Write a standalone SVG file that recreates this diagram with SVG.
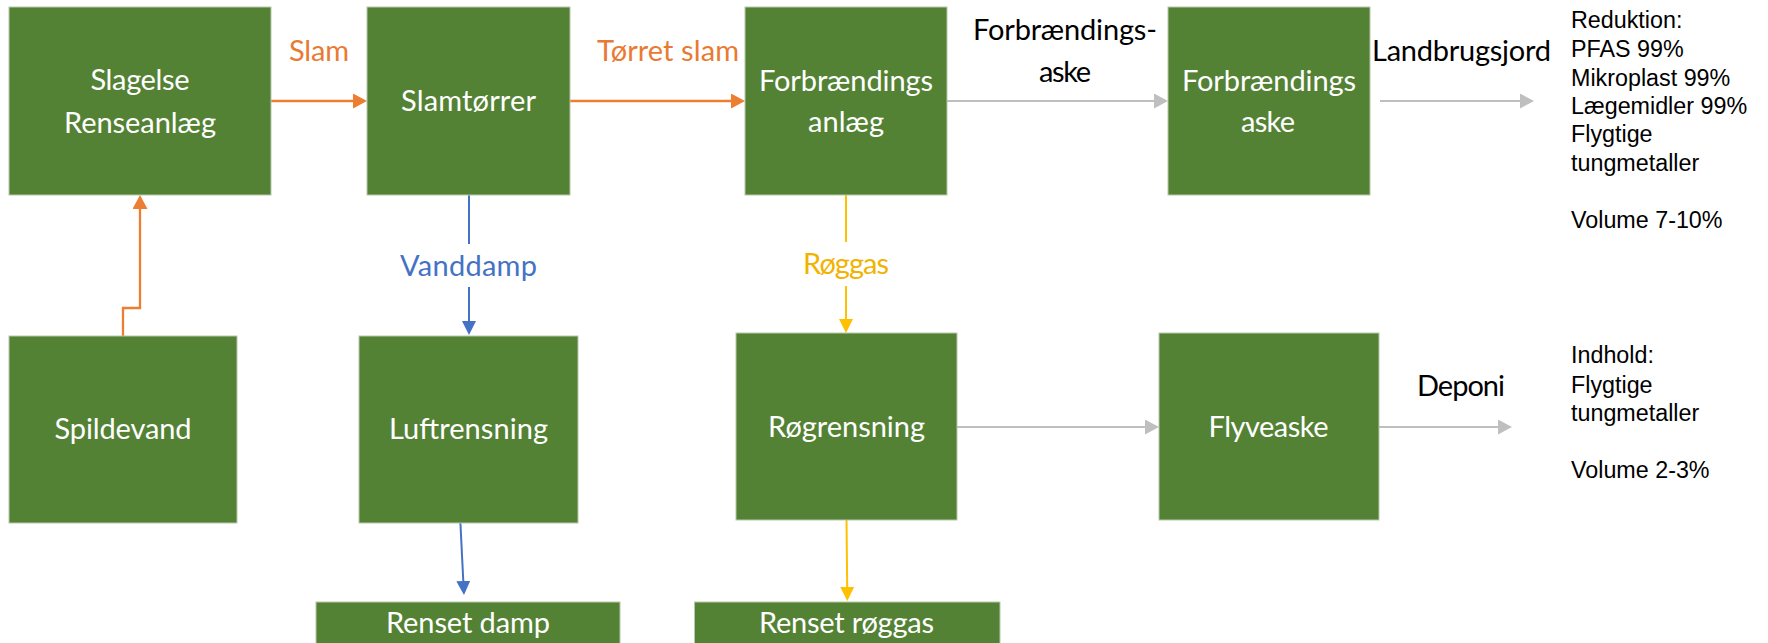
<svg xmlns="http://www.w3.org/2000/svg" width="1768" height="643" viewBox="0 0 1768 643">
<style>
.box{fill:#548235;stroke:#b7c7ab;stroke-width:1}
.bt{font-family:Lato,"Open Sans","Noto Sans",sans-serif;font-size:29px;fill:#ffffff;text-anchor:middle}
.lb{font-family:Lato,"Open Sans","Noto Sans",sans-serif;font-size:29px;text-anchor:middle}
.ar{font-family:"Liberation Sans",Arial,sans-serif;font-size:23.3px;fill:#000000}
.or{stroke:#ED7D31;stroke-width:2.3;fill:none}
.bl{stroke:#4472C4;stroke-width:2;fill:none}
.ye{stroke:#FFC000;stroke-width:2;fill:none}
.gr{stroke:#BFBFBF;stroke-width:2.2;fill:none}
</style>
<defs>
<marker id="aOr" markerUnits="userSpaceOnUse" markerWidth="14" markerHeight="15" refX="0" refY="7.5" orient="auto"><path d="M0,0 L14,7.5 L0,15 z" fill="#ED7D31"/></marker>
<marker id="aBl" markerUnits="userSpaceOnUse" markerWidth="14" markerHeight="14" refX="0" refY="7" orient="auto"><path d="M0,0 L14,7 L0,14 z" fill="#4472C4"/></marker>
<marker id="aYe" markerUnits="userSpaceOnUse" markerWidth="14" markerHeight="14" refX="0" refY="7" orient="auto"><path d="M0,0 L14,7 L0,14 z" fill="#FFC000"/></marker>
<marker id="aGr" markerUnits="userSpaceOnUse" markerWidth="14" markerHeight="15" refX="0" refY="7.5" orient="auto"><path d="M0,0 L14,7.5 L0,15 z" fill="#BFBFBF"/></marker>
</defs>
<rect width="1768" height="643" fill="#ffffff"/>

<g id="connectors">
<line class="or" x1="271" y1="101" x2="353" y2="101" marker-end="url(#aOr)"/>
<line class="or" x1="570" y1="101" x2="731" y2="101" marker-end="url(#aOr)"/>
<path class="or" d="M123,336 V308 H140 V209" marker-end="url(#aOr)"/>
<line class="gr" x1="947" y1="101" x2="1154" y2="101" marker-end="url(#aGr)"/>
<line class="gr" x1="1380" y1="101" x2="1520" y2="101" marker-end="url(#aGr)"/>
<line class="bl" x1="469" y1="195" x2="469" y2="244"/>
<line class="bl" x1="469" y1="287" x2="469" y2="321" marker-end="url(#aBl)"/>
<line class="bl" x1="460.4" y1="523" x2="463.3" y2="581" marker-end="url(#aBl)"/>
<line class="ye" x1="846" y1="195" x2="846" y2="242"/>
<line class="ye" x1="846" y1="286" x2="846" y2="319" marker-end="url(#aYe)"/>
<line class="ye" x1="846.5" y1="520" x2="847.2" y2="587" marker-end="url(#aYe)"/>
<line class="gr" x1="957" y1="427" x2="1145" y2="427" marker-end="url(#aGr)"/>
<line class="gr" x1="1379" y1="427" x2="1498" y2="427" marker-end="url(#aGr)"/>
</g>

<g id="labels">
<text class="lb" x="319" y="61" fill="#E97A33" textLength="60">Slam</text>
<text class="lb" x="668" y="61" fill="#E97A33" textLength="142">Tørret slam</text>
<text class="lb" x="1065" y="40" fill="#000000" textLength="184">Forbrændings-</text>
<text class="lb" x="1065" y="81.5" fill="#000000" textLength="52">aske</text>
<text class="lb" x="1461.5" y="61" fill="#000000" textLength="179">Landbrugsjord</text>
<text class="lb" x="468.5" y="276" fill="#4472C4" textLength="137">Vanddamp</text>
<text class="lb" x="846" y="274" fill="#F2B300" textLength="86">Røggas</text>
<text class="lb" x="1461" y="396" fill="#000000" textLength="88">Deponi</text>
</g>

<g id="note-reduktion">
<text class="ar" x="1571" y="28.3">Reduktion:</text>
<text class="ar" x="1571" y="57.3">PFAS 99%</text>
<text class="ar" x="1571" y="85.7">Mikroplast 99%</text>
<text class="ar" x="1571" y="114">Lægemidler 99%</text>
<text class="ar" x="1571" y="141.7">Flygtige</text>
<text class="ar" x="1571" y="170.7">tungmetaller</text>
<text class="ar" x="1571" y="227.7">Volume 7-10%</text>
</g>
<g id="note-indhold">
<text class="ar" x="1571" y="363">Indhold:</text>
<text class="ar" x="1571" y="392.5">Flygtige</text>
<text class="ar" x="1571" y="421">tungmetaller</text>
<text class="ar" x="1571" y="478">Volume 2-3%</text>
</g>

<g id="slagelse">
<rect class="box" x="9" y="7" width="262" height="188"/>
<text class="bt" x="140" y="90" textLength="99">Slagelse</text>
<text class="bt" x="140" y="132.5" textLength="152">Renseanlæg</text>
</g>
<g id="slamtorrer">
<rect class="box" x="367" y="7" width="203" height="188"/>
<text class="bt" x="468.5" y="111" textLength="135">Slamtørrer</text>
</g>
<g id="forbraendingsanlaeg">
<rect class="box" x="745" y="7" width="202" height="188"/>
<text class="bt" x="846" y="90.5" textLength="174">Forbrændings</text>
<text class="bt" x="846" y="131.7" textLength="76">anlæg</text>
</g>
<g id="forbraendingsaske">
<rect class="box" x="1168" y="7" width="202" height="188"/>
<text class="bt" x="1269" y="91" textLength="174">Forbrændings</text>
<text class="bt" x="1268" y="131.7" textLength="54">aske</text>
</g>
<g id="spildevand">
<rect class="box" x="9" y="336" width="228" height="187"/>
<text class="bt" x="123" y="439" textLength="137">Spildevand</text>
</g>
<g id="luftrensning">
<rect class="box" x="359" y="336" width="219" height="187"/>
<text class="bt" x="468.5" y="439" textLength="159">Luftrensning</text>
</g>
<g id="rogrensning">
<rect class="box" x="736" y="333" width="221" height="187"/>
<text class="bt" x="846.5" y="437" textLength="157">Røgrensning</text>
</g>
<g id="flyveaske">
<rect class="box" x="1159" y="333" width="220" height="187"/>
<text class="bt" x="1268.5" y="437" textLength="120">Flyveaske</text>
</g>
<g id="renset-damp">
<rect class="box" x="316" y="602" width="304" height="45"/>
<text class="bt" x="468" y="633" textLength="164">Renset damp</text>
</g>
<g id="renset-roggas">
<rect class="box" x="694.5" y="602" width="305.5" height="45"/>
<text class="bt" x="846.5" y="633" textLength="175">Renset røggas</text>
</g>
</svg>
